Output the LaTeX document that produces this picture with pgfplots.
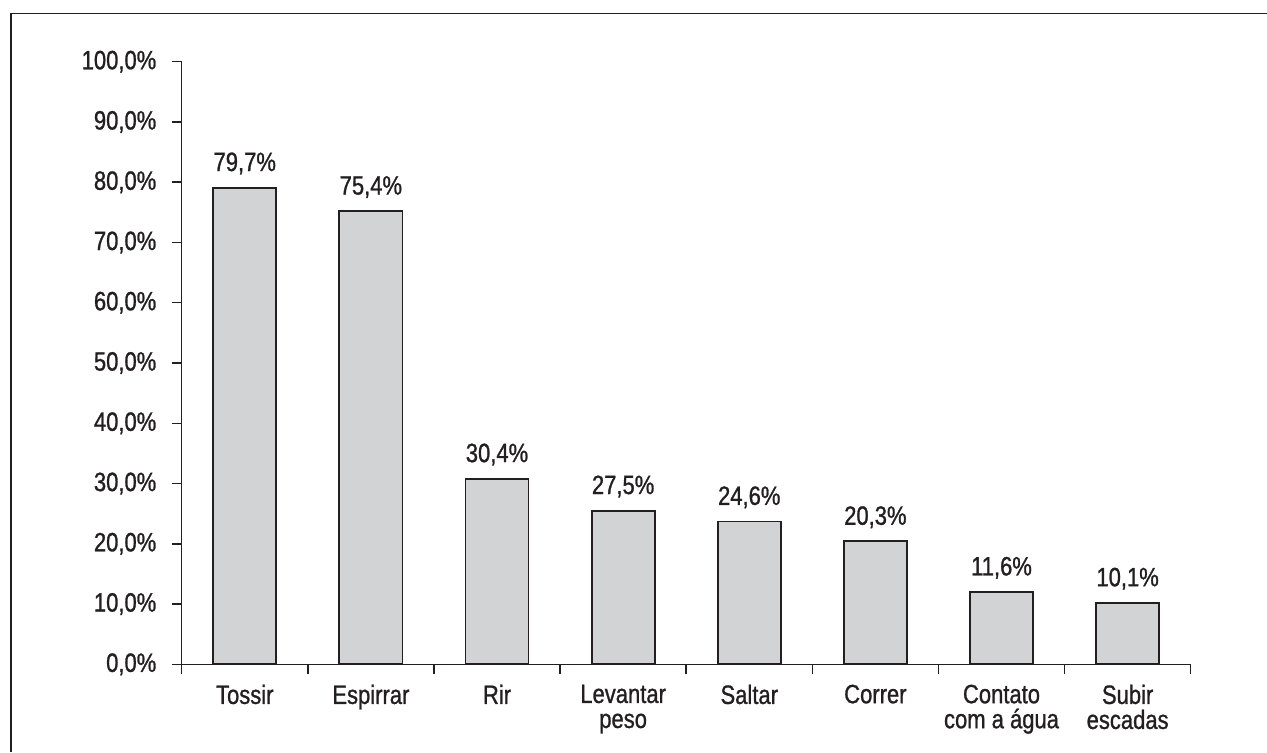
\documentclass[border=0pt]{standalone}
\usepackage{pgfplots}
\usepackage{pgfplotstable}
\pgfplotsset{compat=1.18}
\usepackage{fontspec}
\setmainfont{Liberation Sans}[FakeStretch=0.83, FakeBold=1]
\definecolor{ink}{HTML}{231F20}
\definecolor{barfill}{HTML}{D1D3D4}
\pgfplotstableread{
x bar value
0 79.1 79.7
1 75.2 75.4
2 30.8 30.4
3 25.5 27.5
4 23.7 24.6
5 20.4 20.3
6 12.0 11.6
7 10.2 10.1
}\datatable
\begin{document}
\begin{tikzpicture}[x=0.5pt,y=0.5pt]
\path[use as bounding box] (0,0) rectangle (1267,752);
\draw[ink, line width=0.75pt] (11,0) -- (11,738.7) -- (1267,738.7);
\begin{axis}[
  at={(90.85pt,43.85pt)}, anchor=south west,
  scale only axis, width=504.5pt, height=301.3pt,
  xmin=-0.5, xmax=7.5, ymin=0, ymax=100,
  axis x line*=bottom, axis y line*=left,
  axis line style={ink, line width=0.75pt, -},
  tick align=outside, major tick length=5pt,
  tick style={ink, line width=0.75pt},
  xtick={-0.5,0.5,1.5,2.5,3.5,4.5,5.5,6.5,7.5},
  x tick label as interval,
  xticklabels={Tossir, Espirrar, Rir, {Levantar\\peso}, Saltar, Correr, {Contato\\com a água}, {Subir\\escadas}},
  xticklabel style={anchor=north, inner sep=0pt, align=center, text=ink, yshift=-5pt, font={\fontsize{13.25pt}{12.5pt}\selectfont}},
  ytick={0,10,...,100},
  yticklabels={{0,0\%},{10,0\%},{20,0\%},{30,0\%},{40,0\%},{50,0\%},{60,0\%},{70,0\%},{80,0\%},{90,0\%},{100,0\%}},
  yticklabel style={anchor=east, inner sep=0pt, xshift=-7.5pt, text=ink, font={\fontsize{13.25pt}{15pt}\selectfont}},
  /pgf/number format/assume math mode=true,
  ybar, bar width=0.5,
  nodes near coords={\pgfmathprintnumber[fixed,fixed zerofill,precision=1,use comma]{\pgfplotspointmeta}\%},
  every node near coord/.append style={anchor=base, inner sep=0pt, yshift=8.3pt, text=ink, font={\fontsize{13.25pt}{15pt}\selectfont}},
  clip=false,
]
\addplot[fill=barfill, draw=ink, line width=0.9pt, point meta=\thisrow{value}] table[x=x, y=bar] {\datatable};
\end{axis}
\end{tikzpicture}
\end{document}
